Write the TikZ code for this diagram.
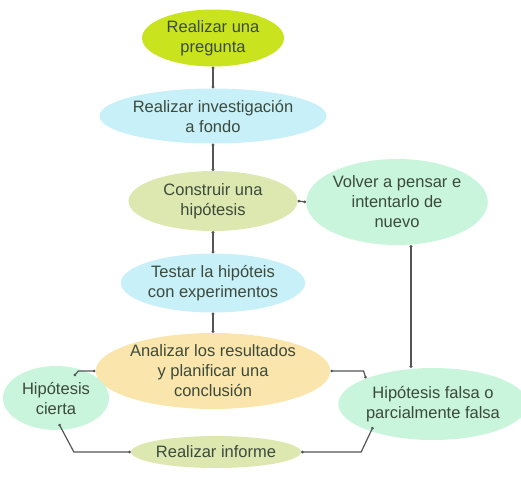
\documentclass[tikz,border=0pt]{standalone}
\usepackage{fontspec}
\setmainfont{Liberation Sans}
\usetikzlibrary{arrows.meta,shapes.geometric}

\definecolor{lima}{HTML}{C9E41F}
\definecolor{cielo}{HTML}{C8F0F8}
\definecolor{oliva}{HTML}{DDE8B0}
\definecolor{menta}{HTML}{C8F5DC}
\definecolor{crema}{HTML}{FAE6AC}
\definecolor{texto}{HTML}{3C4A3C}
\definecolor{linea}{HTML}{555555}

\begin{document}
\begin{tikzpicture}[x=1pt,y=-1pt,
    paso/.style={ellipse, inner sep=0pt, align=center, text=texto,
        font=\fontsize{16.5}{20}\selectfont},
    link/.style={draw=linea, line width=1.2pt,
        {Circle[length=2.6pt]}-{Circle[length=2.6pt]}}]

\useasboundingbox (0,0) rectangle (521,480);

% Main column
\node[paso, fill=lima, minimum width=142, minimum height=57] (que) at (213,38) {Realizar una\\pregunta};
\node[paso, fill=cielo, minimum width=177, minimum height=55] (inv) at (213,116) {Realizar investigación\\a fondo};
\node[paso, fill=oliva, minimum width=169, minimum height=60] (hip) at (213,201) {Construir una\\hipótesis};
\node[paso, fill=cielo, minimum width=173, minimum height=59] (tes) at (213,283) {Testar la hipóteis\\con experimentos};
\node[paso, fill=crema, minimum width=225, minimum height=76] (ana) at (213,371) {Analizar los resultados\\y planificar una\\conclusión};
\node[paso, fill=oliva, minimum width=148, minimum height=32] (inf) at (216,452) {Realizar informe};

% Side nodes
\node[paso, fill=menta, minimum width=153, minimum height=86] (vol) at (397,202) {Volver a pensar e\\intentarlo de\\nuevo};
\node[paso, fill=menta, minimum width=106, minimum height=64] (cie) at (56,398) {Hipótesis\\cierta};
\node[paso, fill=menta, minimum width=157, minimum height=72] (fal) at (433,404) {Hipótesis falsa o\\parcialmente falsa};

% Straight links
\draw[link] (que) -- (inv);
\draw[link] (inv) -- (hip);
\draw[link] (hip) -- (tes);
\draw[link] (tes) -- (ana);
\draw[link] (vol.west) -- (hip.east);
\draw[link] ([shift={(-22,0)}]fal.north) -- ([shift={(14,0)}]vol.south);

% Bent links
\draw[link] (ana.east) -- ++(33,0) -- (fal.north west);
\draw[link] (ana.west) -- ++(-17,0) -- ([shift={(18,-22)}]cie.center);
\draw[link] ([shift={(3,26)}]cie.center) -- ([shift={(-57,0)}]inf.west) -- (inf.west);
\draw[link] ([shift={(-60,23)}]fal.center) -- ([shift={(60,0)}]inf.east) -- (inf.east);

\end{tikzpicture}
\end{document}
